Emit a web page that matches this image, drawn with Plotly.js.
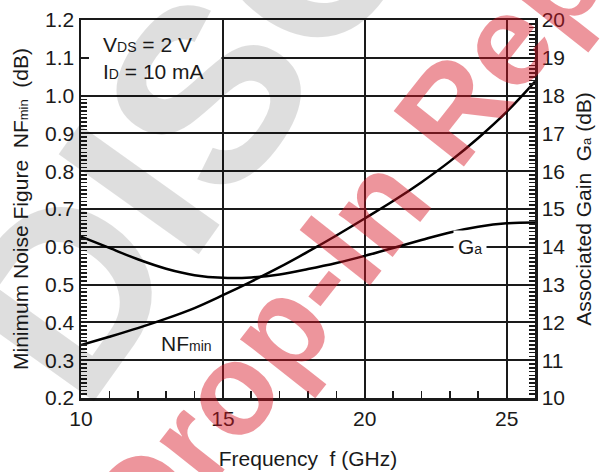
<!DOCTYPE html>
<html>
<head>
<meta charset="utf-8">
<script src="https://cdn.plot.ly/plotly-3.0.1.min.js"></script>
<style>html,body{margin:0;padding:0;background:#fff;}#chart{width:603px;height:472px;}</style>
</head>
<body>
<div id="chart"></div>
<script>
// Data
const freqGHz = [10, 11, 12, 13, 14, 15, 16, 17, 18, 19, 20, 21, 22, 23, 24, 25, 26];
const nfMinDb = [0.340, 0.362, 0.385, 0.410, 0.438, 0.472, 0.508, 0.546, 0.587, 0.630, 0.675, 0.721, 0.771, 0.826, 0.888, 0.957, 1.037];
const gainAssocDb = [14.27, 13.97, 13.67, 13.42, 13.25, 13.18, 13.19, 13.27, 13.41, 13.57, 13.76, 13.97, 14.18, 14.38, 14.53, 14.62, 14.64];

const xTickVals = [10, 15, 20, 25];
const nfTickVals = [0.2, 0.3, 0.4, 0.5, 0.6, 0.7, 0.8, 0.9, 1.0, 1.1, 1.2];
const gainTickVals = [10, 11, 12, 13, 14, 15, 16, 17, 18, 19, 20];

const FONT = '"Liberation Sans", Arial, Helvetica, sans-serif';
const INK = '#1a1a1a';
const FS = 21;

// minor tick positions on the left axis (only up to 1.0)
const nfMinorTicks = [];
for (let i = 21; i < 100; i++) { if (i % 10 !== 0) nfMinorTicks.push(i / 100); }

const traces = [
  {x: freqGHz, y: nfMinDb, type: 'scatter', mode: 'lines', yaxis: 'y',
   line: {color: '#000', width: 2.5, shape: 'spline', smoothing: 1}, hoverinfo: 'skip'},
  {x: freqGHz, y: gainAssocDb, type: 'scatter', mode: 'lines', yaxis: 'y2',
   line: {color: '#000', width: 2.5, shape: 'spline', smoothing: 1}, hoverinfo: 'skip'}
];

const layout = {
  width: 603, height: 472,
  margin: {l: 81, r: 68, t: 20, b: 74, pad: 0},
  paper_bgcolor: '#fff', plot_bgcolor: '#fff',
  showlegend: false,
  font: {family: FONT, size: FS, color: INK},
  xaxis: {
    range: [10, 26], tickvals: xTickVals, ticktext: xTickVals.map(String),
    ticks: 'inside', ticklen: 8, tickwidth: 2, tickcolor: INK,
    showgrid: true, gridcolor: INK, gridwidth: 2,
    showline: true, linecolor: INK, linewidth: 2.5, mirror: true, zeroline: false,
    minor: {dtick: 1, tick0: 10, ticks: 'inside', ticklen: 7, tickwidth: 1.6, tickcolor: INK, showgrid: false},
    tickfont: {size: FS, family: FONT, color: INK},
    title: {text: 'Frequency  f (GHz)', font: {size: FS, family: FONT, color: INK}, standoff: 23}
  },
  yaxis: {
    range: [0.2, 1.2], tickvals: nfTickVals, ticktext: nfTickVals.map(v => v.toFixed(1)),
    ticks: 'inside', ticklen: 8, tickwidth: 2, tickcolor: INK,
    showgrid: true, gridcolor: INK, gridwidth: 2,
    showline: true, linecolor: INK, linewidth: 2.5, zeroline: false,
    minor: {tickmode: 'array', tickvals: nfMinorTicks, ticks: 'inside', ticklen: 6, tickwidth: 1.6, tickcolor: INK, showgrid: false},
    tickfont: {size: FS, family: FONT, color: INK},
    title: {text: 'Minimum Noise Figure  NF<span style="font-size:13px">min</span>  (dB)', font: {size: FS, family: FONT, color: INK}, standoff: 11}
  },
  yaxis2: {
    overlaying: 'y', side: 'right', anchor: 'x',
    range: [10, 20], tickvals: gainTickVals, ticktext: gainTickVals.map(String),
    ticks: 'inside', ticklen: 8, tickwidth: 2, tickcolor: INK,
    showgrid: false, showline: true, linecolor: INK, linewidth: 2.5, zeroline: false,
    minor: {dtick: 0.1, tick0: 10, ticks: 'inside', ticklen: 6, tickwidth: 1.6, tickcolor: INK, showgrid: false},
    tickfont: {size: FS, family: FONT, color: INK},
    title: {text: 'Associated Gain  G<span style="font-size:13px">a</span> (dB)', font: {size: FS, family: FONT, color: INK}, standoff: 12}
  },
  shapes: [
    {type: 'rect', xref: 'x', yref: 'y', x0: 10, x1: 14.95, y0: 1.004, y1: 1.2,
     fillcolor: '#fff', line: {width: 0}, layer: 'between'}
  ],
  annotations: [
    {xref: 'x', yref: 'y', x: 10.72, y: 1.1, xanchor: 'left', yanchor: 'middle', align: 'left', showarrow: false,
     text: 'V<span style="font-size:14px">DS</span> = 2 V<br>I<span style="font-size:14px">D</span> = 10 mA',
     font: {size: FS, family: FONT, color: INK}},
    {xref: 'x', yref: 'y', x: 12.75, y: 0.345, xanchor: 'left', yanchor: 'middle', showarrow: false,
     text: 'NF<span style="font-size:14px">min</span>', font: {size: FS, family: FONT, color: INK}},
    {xref: 'x', yref: 'y2', x: 23.72, y: 14, xanchor: 'center', yanchor: 'middle', showarrow: false,
     text: 'G<span style="font-size:14px">a</span>', bgcolor: '#fff', borderpad: 4,
     font: {size: FS, family: FONT, color: INK}},
    // watermarks
    {xref: 'paper', yref: 'paper', x: 1.07, y: 2.138, xanchor: 'center', yanchor: 'middle', showarrow: false,
     text: '<b>DISCONTINUED</b>', textangle: -54.5,
     font: {size: 250, family: FONT, color: 'rgba(0,0,0,0.13)'}},
    {xref: 'paper', yref: 'paper', x: 0.965, y: 0.99, xanchor: 'center', yanchor: 'middle', showarrow: false,
     text: '<b>Drop-In Replacement</b>', textangle: -51.7,
     font: {size: 130, family: FONT, color: 'rgba(215,20,35,0.45)'}}
  ]
};

Plotly.newPlot('chart', traces, layout, {staticPlot: true, displayModeBar: false});
</script>
</body>
</html>
